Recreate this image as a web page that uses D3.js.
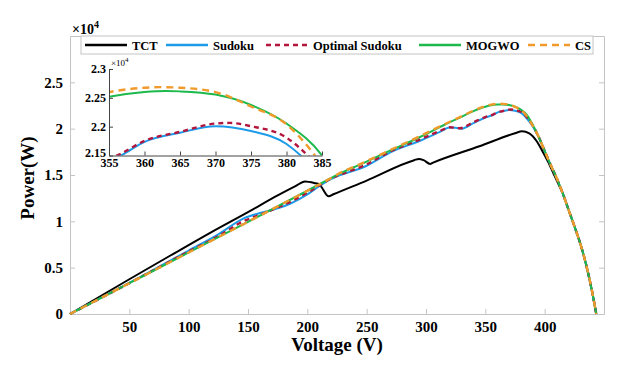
<!DOCTYPE html>
<html>
<head>
<meta charset="utf-8">
<script src="https://cdn.jsdelivr.net/npm/d3@7"></script>
<style>
body { margin: 0; background: #fff; }
text { font-family: "Liberation Serif", "Times New Roman", serif; font-weight: bold; fill: #000; }
</style>
</head>
<body>
<div id="chart"></div>
<script>
// P-V curves, power in units of 10^4 W (as on the y axis)
var tctV = [0, 50, 85, 120, 150, 175, 190, 198, 207, 210, 218, 222, 250, 290, 294, 298, 303.4, 306, 345, 375, 381, 387, 393, 398, 403, 408, 412, 415, 420, 425, 430, 435, 440, 443.5];
var tctP = [0, 0.375, 0.634, 0.89, 1.10, 1.28, 1.38, 1.43, 1.41, 1.40, 1.27, 1.292, 1.44, 1.66, 1.674, 1.66, 1.62, 1.634, 1.81, 1.95, 1.971, 1.95, 1.87, 1.76, 1.64, 1.50, 1.39, 1.31, 1.13, 0.95, 0.76, 0.53, 0.24, 0];

var sudokuV = [0, 50, 100, 125, 146, 160, 175, 185.5, 200, 210, 219, 250, 270, 295, 311.7, 320, 325, 330, 340, 350, 356.7, 360, 365, 370, 375, 380, 382, 385, 390, 395, 400, 405, 410, 415, 420, 425, 430, 435, 440, 443.5];
var sudokuP = [0, 0.335, 0.685, 0.86, 1.03, 1.09, 1.14, 1.19, 1.29, 1.38, 1.45, 1.60, 1.745, 1.87, 1.965, 2.012, 2.01, 2.0, 2.06, 2.12, 2.15, 2.1737, 2.1896, 2.2008, 2.1924, 2.17, 2.15, 2.11, 2.025, 1.91, 1.76, 1.61, 1.47, 1.31, 1.13, 0.95, 0.76, 0.53, 0.24, 0];

var optimalV = [0, 50, 100, 125, 146, 160, 175, 185.5, 200, 219, 250, 270, 295, 311.7, 320, 328.6, 340, 350, 356.5, 360, 365, 370, 372, 375, 380, 383, 386, 390, 395, 400, 405, 410, 415, 420, 425, 430, 435, 440, 443.5];
var optimalP = [0, 0.333, 0.675, 0.84, 1.0, 1.07, 1.15, 1.21, 1.31, 1.455, 1.615, 1.755, 1.885, 1.975, 2.015, 2.005, 2.07, 2.125, 2.152, 2.1754, 2.191, 2.2054, 2.2065, 2.2008, 2.181, 2.15, 2.11, 2.035, 1.91, 1.76, 1.61, 1.47, 1.31, 1.13, 0.95, 0.76, 0.53, 0.24, 0];

var mogwoV = [0, 50, 100, 150, 200, 219, 228, 244, 270, 295, 316, 328.6, 340, 345, 350, 355, 360, 363, 365, 370, 375, 380, 385, 390, 395, 400, 405, 410, 415, 420, 425, 430, 435, 440, 443.5];
var mogwoP = [0, 0.332, 0.664, 0.995, 1.33, 1.46, 1.52, 1.61, 1.765, 1.91, 2.045, 2.12, 2.19, 2.215, 2.236, 2.2517, 2.26, 2.2619, 2.2612, 2.2556, 2.2376, 2.2054, 2.15, 2.04, 1.91, 1.76, 1.61, 1.47, 1.31, 1.13, 0.95, 0.76, 0.53, 0.24, 0];

var csV = [0, 50, 100, 150, 200, 219, 228, 244, 270, 295, 316, 328.6, 340, 345, 350, 355, 360, 362, 365, 370, 375, 380, 384, 390, 395, 400, 405, 410, 415, 420, 425, 430, 435, 440, 443.5];
var csP = [0, 0.332, 0.664, 0.995, 1.33, 1.46, 1.525, 1.615, 1.77, 1.92, 2.05, 2.125, 2.195, 2.222, 2.244, 2.26, 2.2675, 2.2686, 2.2675, 2.26, 2.235, 2.204, 2.15, 2.03, 1.91, 1.76, 1.61, 1.47, 1.31, 1.13, 0.95, 0.76, 0.53, 0.24, 0];

var seriesNames = ["TCT", "Sudoku", "Optimal Sudoku", "MOGWO", "CS"];
var seriesColors = ["#000000", "#1e9be8", "#b3163c", "#1db94c", "#f09a2c"];

var xTicks = [50, 100, 150, 200, 250, 300, 350, 400];
var yTicks = [0, 0.5, 1, 1.5, 2, 2.5];
var insetXTicks = [355, 360, 365, 370, 375, 380, 385];
var insetYTicks = [2.15, 2.2, 2.25, 2.3];

var series = [
  {name: seriesNames[0], color: seriesColors[0], dash: null, v: tctV, p: tctP},
  {name: seriesNames[1], color: seriesColors[1], dash: null, v: sudokuV, p: sudokuP},
  {name: seriesNames[2], color: seriesColors[2], dash: "5,4", v: optimalV, p: optimalP},
  {name: seriesNames[3], color: seriesColors[3], dash: null, v: mogwoV, p: mogwoP},
  {name: seriesNames[4], color: seriesColors[4], dash: "7,5", v: csV, p: csP}
];
series.forEach(function(s) {
  s.values = s.v.map(function(d, i) { return {v: d, p: s.p[i]}; });
});

var W = 635, H = 365;
var margin = {top: 36, right: 31, bottom: 51, left: 70},
    width = W - margin.left - margin.right,
    height = H - margin.top - margin.bottom;

var svg = d3.select("#chart").append("svg")
    .attr("width", W).attr("height", H);

var g = svg.append("g")
    .attr("transform", "translate(" + margin.left + "," + margin.top + ")");

var x = d3.scaleLinear().domain([0, 450]).range([0, width]);
var y = d3.scaleLinear().domain([0, 3]).range([height, 0]);

var axisColor = "#c4c4c4";

// bottom axis, ticks inside
var xAxis = g.append("g")
    .attr("transform", "translate(0," + height + ")")
    .call(d3.axisBottom(x).tickValues(xTicks).tickSizeInner(-5).tickSizeOuter(0).tickPadding(7));
var yAxis = g.append("g")
    .call(d3.axisLeft(y).tickValues(yTicks).tickFormat(d3.format("")).tickSizeInner(-5).tickSizeOuter(0).tickPadding(7));
// top / right box ticks
var xTop = g.append("g")
    .call(d3.axisTop(x).tickValues(xTicks).tickFormat("").tickSizeInner(-5).tickSizeOuter(0));
var yRight = g.append("g")
    .attr("transform", "translate(" + width + ",0)")
    .call(d3.axisRight(y).tickValues(yTicks).tickFormat("").tickSizeInner(-5).tickSizeOuter(0));

[xAxis, yAxis, xTop, yRight].forEach(function(a) {
  a.selectAll("path, line").attr("stroke", axisColor).attr("stroke-width", 1);
  a.selectAll("text").style("font-size", "15px").style("font-family", "Liberation Serif").style("font-weight", "bold").attr("fill", "#111");
});

// lines
var line = d3.line()
    .x(function(d) { return x(d.v); })
    .y(function(d) { return y(d.p); })
    .curve(d3.curveMonotoneX);

g.selectAll(".series")
    .data(series)
    .enter()
    .append("path")
      .attr("class", "series")
      .attr("d", function(d) { return line(d.values); })
      .attr("fill", "none")
      .attr("stroke", function(d) { return d.color; })
      .attr("stroke-width", function(d) { return d.dash ? 2.4 : 2; })
      .attr("stroke-dasharray", function(d) { return d.dash; });

// exponent label
var expo = g.append("text").attr("x", 2).attr("y", -2).style("font-size", "14px");
expo.append("tspan").text("\u00d710");
expo.append("tspan").attr("dy", -6).style("font-size", "10px").text("4");

// axis titles
g.append("text")
    .attr("x", width / 2).attr("y", height + 37)
    .attr("text-anchor", "middle")
    .style("font-size", "19px")
    .text("Voltage (V)");
g.append("text")
    .attr("transform", "translate(-36," + (height / 2 + 3) + ") rotate(-90)")
    .attr("text-anchor", "middle")
    .style("font-size", "19px")
    .text("Power(W)");

// legend
var legend = g.append("g");
legend.append("rect")
    .attr("x", 11).attr("y", 0).attr("width", 512).attr("height", 18)
    .attr("fill", "#fff").attr("stroke", axisColor);
var legendX = [15, 96, 196, 349, 458];
series.forEach(function(s, i) {
  var lg = legend.append("g").attr("transform", "translate(" + legendX[i] + ",0)");
  lg.append("line")
      .attr("x1", 0).attr("x2", 42).attr("y1", 9).attr("y2", 9)
      .attr("stroke", s.color).attr("stroke-width", 2.5)
      .attr("stroke-dasharray", s.dash);
  lg.append("text").attr("x", 47).attr("y", 14)
      .style("font-size", "12.5px").text(s.name);
});

// inset zoom
var inset = {left: 109, top: 69, width: 213, height: 86.5};
var xi = d3.scaleLinear().domain([355, 385]).range([0, inset.width]);
var yi = d3.scaleLinear().domain([2.15, 2.3]).range([inset.height, 0]);

var gi = svg.append("g")
    .attr("transform", "translate(" + inset.left + "," + inset.top + ")");

gi.append("rect")
    .attr("width", inset.width).attr("height", inset.height)
    .attr("fill", "#fff");

svg.append("clipPath").attr("id", "insetClip")
  .append("rect").attr("width", inset.width).attr("height", inset.height);

var lineI = d3.line()
    .x(function(d) { return xi(d.v); })
    .y(function(d) { return yi(d.p); })
    .curve(d3.curveMonotoneX);

gi.append("g").attr("clip-path", "url(#insetClip)")
  .selectAll("path")
  .data(series.slice(1))
  .enter()
  .append("path")
    .attr("d", function(d) { return lineI(d.values.filter(function(e) { return e.v >= 345 && e.v <= 395; })); })
    .attr("fill", "none")
    .attr("stroke", function(d) { return d.color; })
    .attr("stroke-width", function(d) { return d.dash ? 2.4 : 2; })
    .attr("stroke-dasharray", function(d) { return d.dash; });

var xiAxis = gi.append("g")
    .attr("transform", "translate(0," + inset.height + ")")
    .call(d3.axisBottom(xi).tickValues(insetXTicks).tickSizeInner(-4).tickSizeOuter(0).tickPadding(3));
var yiAxis = gi.append("g")
    .call(d3.axisLeft(yi).tickValues(insetYTicks).tickFormat(d3.format("")).tickSizeInner(-4).tickSizeOuter(0).tickPadding(3));
[xiAxis, yiAxis].forEach(function(a) {
  a.selectAll("path, line").attr("stroke", "#444").attr("stroke-width", 1);
  a.selectAll("text").style("font-size", "12px").style("font-family", "Liberation Serif").style("font-weight", "bold").attr("fill", "#111");
});
// nudge the bottom-most inset y label up so it does not sit on "355"
yiAxis.selectAll(".tick text").filter(function(d) { return d === 2.15; }).attr("dy", "0.05em");

var expoI = gi.append("text").attr("x", 2).attr("y", -3).style("font-size", "9px").style("font-weight", "normal");
expoI.append("tspan").text("\u00d710");
expoI.append("tspan").attr("dy", -4).style("font-size", "7px").text("4");
</script>
</body>
</html>
